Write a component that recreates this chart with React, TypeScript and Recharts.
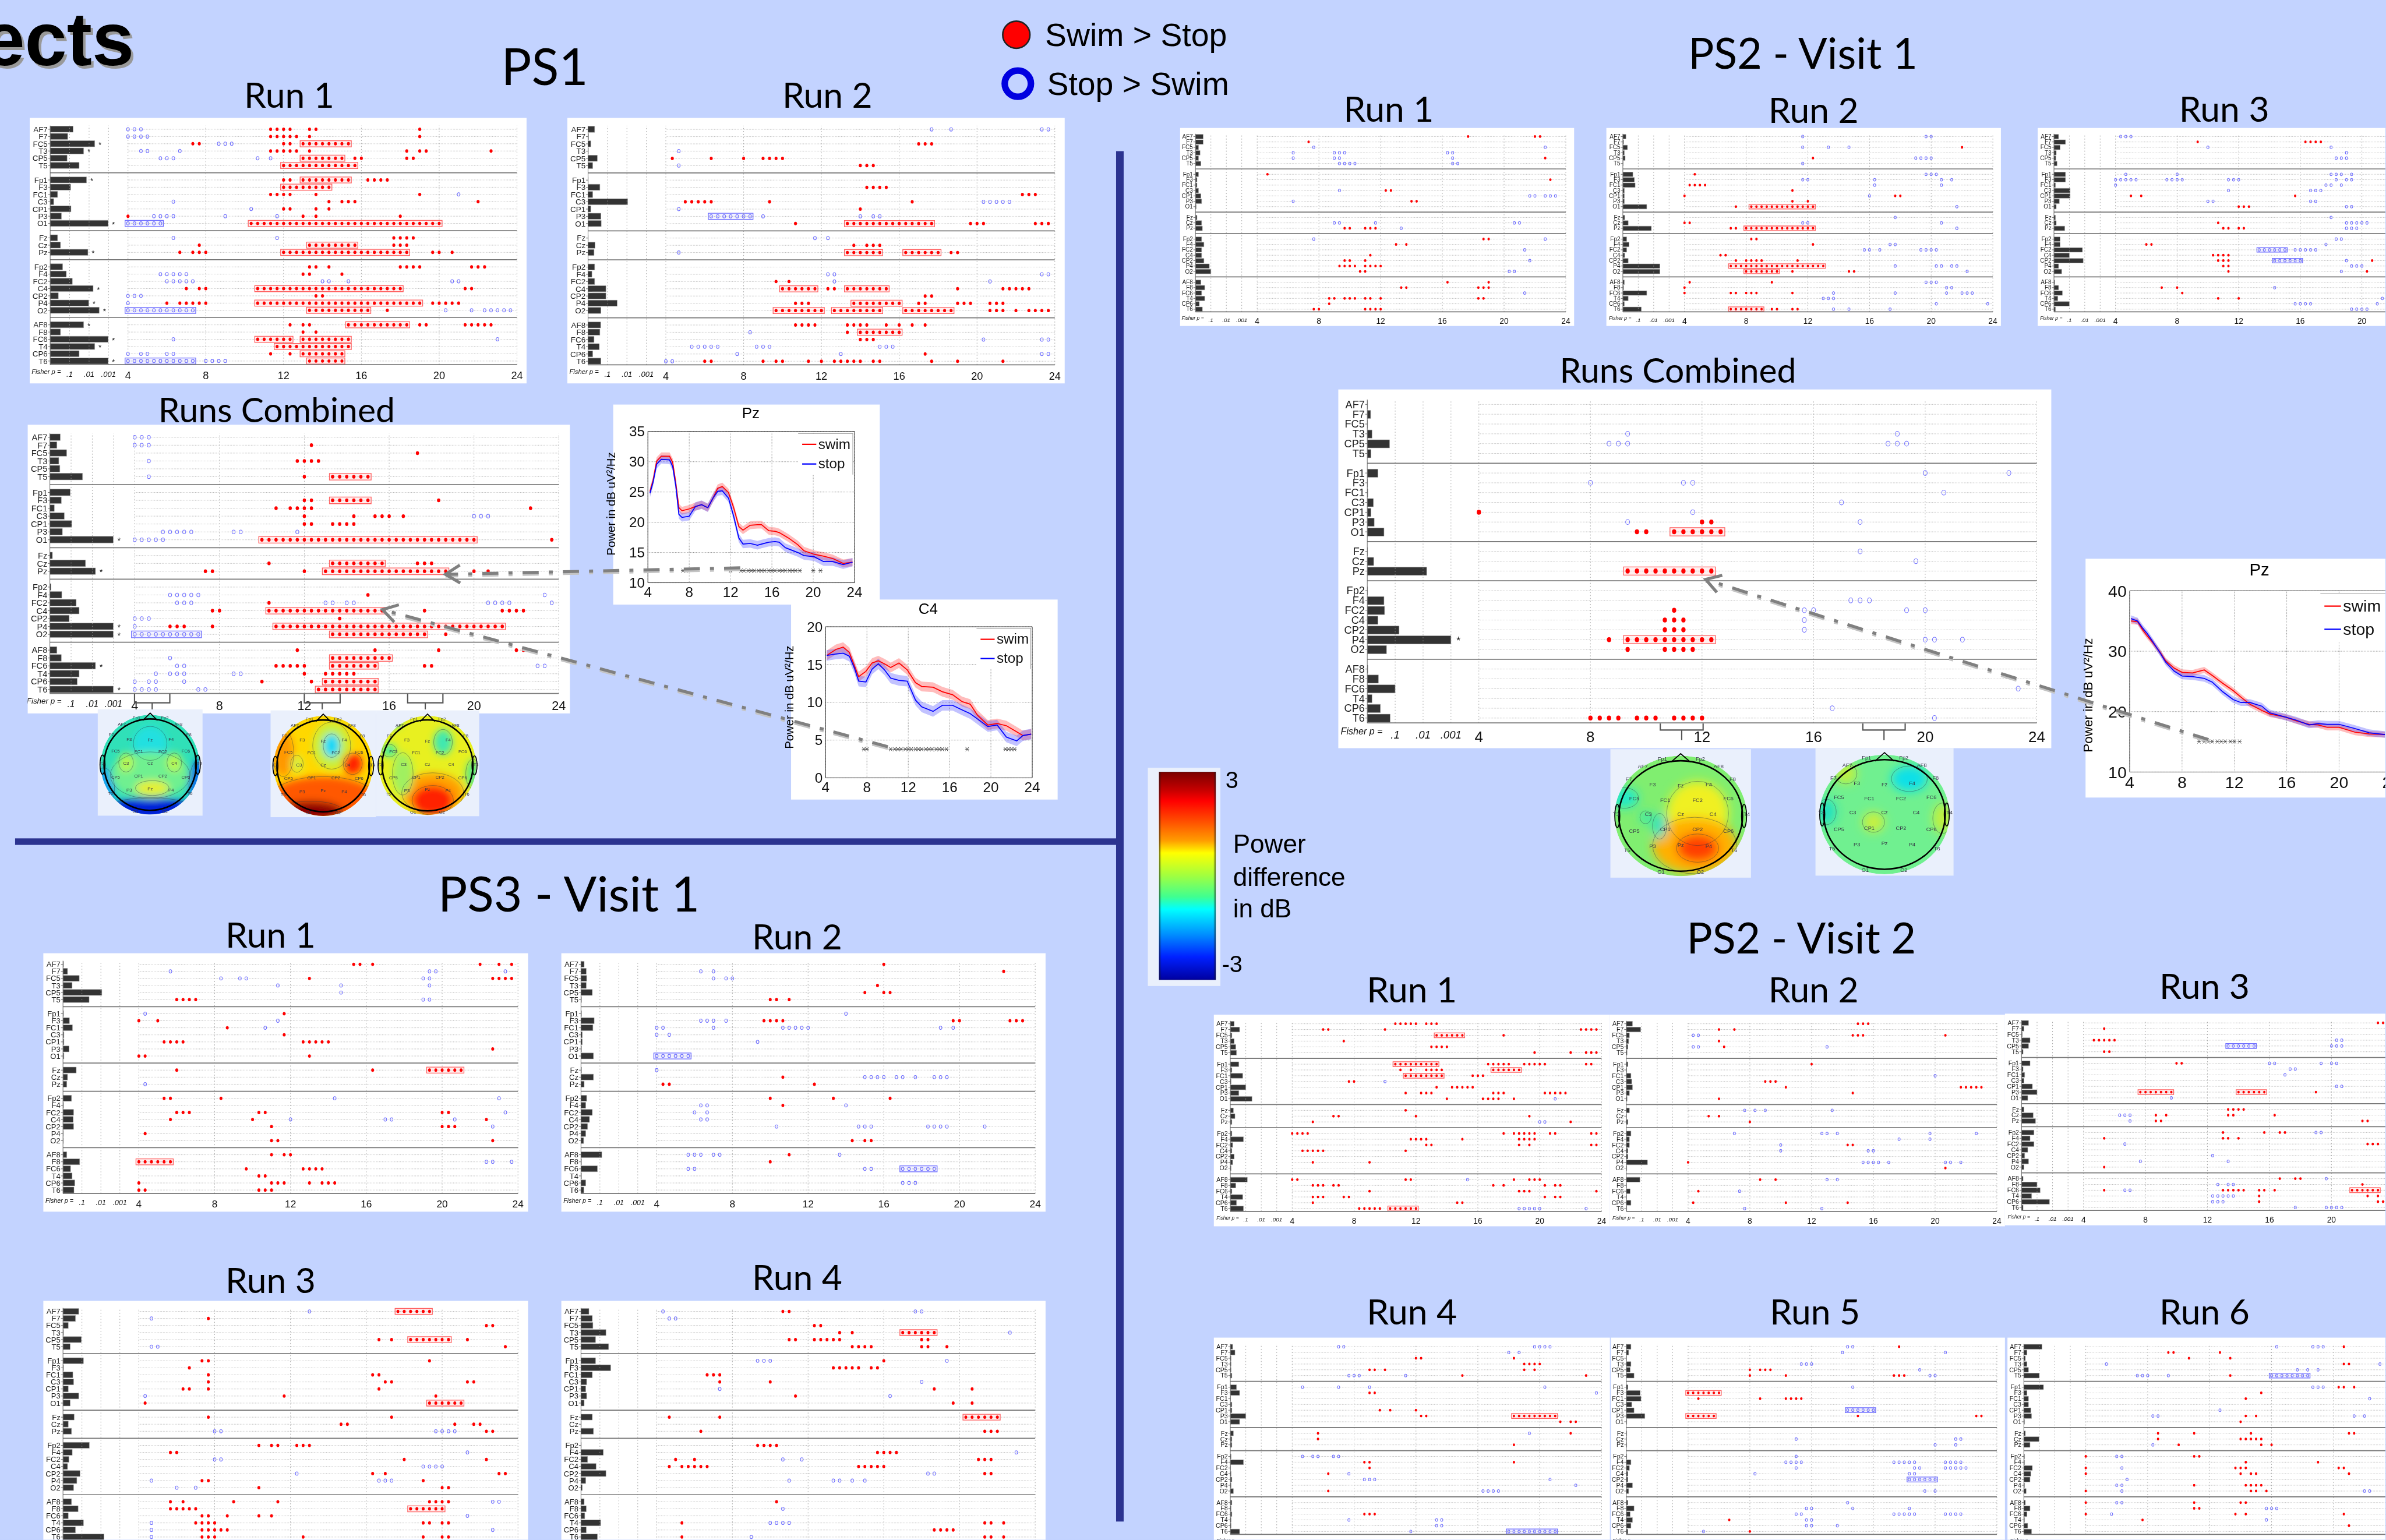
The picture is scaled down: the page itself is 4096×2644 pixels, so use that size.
import {
  Area,
  Bar,
  CartesianGrid,
  ComposedChart,
  Line,
  ReferenceArea,
  ReferenceLine,
  Scatter,
  XAxis,
  YAxis,
} from "recharts";

const SANS = "Liberation Sans";
const TITLE = "Lato";
const BG = "#c3d3ff";

type Rows = Record<string, number[]>;
type Box = [string, number, number];

const CHANNELS = ["AF7", "F7", "FC5", "T3", "CP5", "T5", "Fp1", "F3", "FC1", "C3", "CP1", "P3", "O1", "Fz", "Cz", "Pz", "Fp2", "F4", "FC2", "C4", "CP2", "P4", "O2", "AF8", "F8", "FC6", "T4", "CP6", "T6"];
const ROW_POS = [0, 1, 2, 3, 4, 5, 7, 8, 9, 10, 11, 12, 13, 15, 16, 17, 19, 20, 21, 22, 23, 24, 25, 27, 28, 29, 30, 31, 32];
const SEPARATORS = [6, 14, 18, 26];
const FREQ_TICKS = [4, 8, 12, 16, 20, 24];
const FISHER_TICKS = [1, 2, 3];
const FISHER_LABELS: Record<number, string> = { 1: ".1", 2: ".01", 3: ".001" };

// dots are frequency bins: 0 = 4 Hz, 60 = 24 Hz (1/3 Hz steps)
const ps1r1Bars = [1.18, 0.9, 2.29, 1.72, 0.87, 1.49, 1.87, 1.05, 0.38, 0.18, 1.07, 0.58, 2.98, 0.38, 0.53, 1.94, 0.64, 0.83, 1.14, 2.21, 0.42, 1.98, 2.52, 1.72, 0.53, 2.98, 2.29, 1.49, 2.98];
const ps1r1Red: Rows = { AF7: [22, 23, 24, 25, 28, 29, 45], F7: [22, 23, 24, 25, 26, 28, 45], FC5: [10, 11, 24, 25], T3: [22, 23, 24, 25, 26, 28, 43, 45, 46, 56], CP5: [35, 36, 43, 44], Fp1: [24, 25, 37, 38, 39, 40], FC1: [22, 23, 24, 25, 29, 45], C3: [31, 33, 34, 35, 54], CP1: [24, 25, 29, 31], P3: [0, 27, 29, 42], Fz: [41, 42, 43, 44], Cz: [11, 41, 42, 43], Pz: [8, 10, 11, 12, 47, 48, 50], Fp2: [28, 29, 31, 42, 43, 44, 45, 53, 54, 55], F4: [27, 28, 33], C4: [9, 11, 12, 52, 53], CP2: [29, 30], P4: [6, 8, 9, 10, 11, 12, 47, 48, 49, 50, 51], O2: [40], AF8: [25, 27, 28, 45, 46, 52, 53, 54, 55, 56], F8: [27, 29], CP6: [22, 25] };
const ps1r1Blue: Rows = { AF7: [0, 1, 2], F7: [0, 1, 2, 3], FC5: [14, 15, 16], T3: [2, 3, 8], CP5: [5, 6, 7, 20, 22], FC1: [51], C3: [7], CP1: [19], P3: [4, 5, 6, 7, 15, 23], Fz: [7, 23], F4: [5, 6, 7, 8, 9], FC2: [6, 7, 8, 9, 10, 30, 31, 34, 50, 51], CP2: [0, 1, 2], P4: [0], O2: [49, 53, 55, 56, 57, 58, 59], FC6: [7, 57], CP6: [0, 2, 3, 6, 7], T6: [12, 13, 14, 15] };
const ps1r1RedBoxes: Box[] = [["FC5", 27, 34], ["CP5", 27, 33], ["T5", 24, 35], ["Fp1", 27, 34], ["F3", 24, 31], ["O1", 19, 48], ["Cz", 28, 35], ["Pz", 24, 43], ["C4", 20, 42], ["P4", 20, 45], ["O2", 28, 37], ["AF8", 34, 43], ["FC6", 20, 25], ["FC6", 27, 34], ["T4", 23, 34], ["CP6", 27, 33], ["T6", 28, 33]];
const ps1r1BlueBoxes: Box[] = [["O1", 0, 5], ["O2", 0, 10], ["T6", 0, 10]];
const ps1r1Stars = ["FC5", "T3", "Fp1", "O1", "Pz", "C4", "P4", "O2", "AF8", "FC6", "T4", "T6"];

const ps1r2Bars = [0.34, 0.03, 0.14, 0.02, 0.48, 0.24, 0.01, 0.61, 0.24, 2.04, 0.14, 0.66, 0.68, 0.01, 0.36, 0.31, 0.34, 0.2, 0.34, 0.92, 0.92, 1.5, 0.66, 0.65, 0.61, 0.31, 0.58, 0.24, 0.66];
const ps1r2Red: Rows = { FC5: [39, 40, 41], CP5: [1, 7, 12, 15, 16, 17, 18], T5: [30, 31, 32], F3: [31, 32, 33, 34], FC1: [55, 56, 57], C3: [3, 4, 5, 6, 7, 16, 38], CP1: [30], O1: [20, 47, 48, 49, 57, 58, 59], Cz: [29, 31, 32, 33], Pz: [44, 45], FC2: [17, 19], C4: [25, 26, 45, 52, 53, 54, 55, 56], CP2: [40, 41], P4: [20, 21, 22, 39, 40, 45, 46, 47, 50, 51, 52], O2: [50, 51, 52, 54, 56, 57, 58, 59], AF8: [20, 21, 22, 23, 28, 29, 30, 31, 34, 36, 38, 40], F8: [28], FC6: [30, 31, 32], CP6: [40], T6: [6, 7, 15, 17, 18, 22, 24, 26, 27, 28, 29, 30, 32, 33, 41, 45, 52] };
const ps1r2Blue: Rows = { AF7: [41, 44, 58, 59], T3: [2], T5: [2], C3: [49, 50, 51, 52, 53], CP1: [2], P3: [15, 30, 32, 33], Fz: [23, 25], Pz: [2], F4: [25, 26, 58, 59], FC2: [26, 50], F8: [13], FC6: [49, 58, 59], T4: [4, 5, 6, 7, 8, 14, 15, 16, 33, 34, 35], CP6: [11, 27, 58, 59], T6: [0, 1] };
const ps1r2RedBoxes: Box[] = [["O1", 28, 41], ["Pz", 28, 33], ["Pz", 37, 42], ["C4", 18, 23], ["C4", 28, 34], ["P4", 29, 36], ["O2", 17, 24], ["O2", 26, 33], ["O2", 37, 44], ["F8", 30, 36]];
const ps1r2BlueBoxes: Box[] = [["P3", 7, 13]];

const ps1cBars = [0.49, 0.33, 0.79, 0.42, 0.47, 1.54, 0.96, 0.54, 0.21, 0.68, 1.03, 0.59, 2.99, 0.12, 1.68, 2.15, 0.05, 0.56, 1.24, 1.38, 0.91, 2.99, 2.99, 0.33, 0.54, 2.15, 1.38, 1.29, 2.99];
const ps1cRed: Rows = { F7: [25], FC5: [40], T3: [23, 24, 25, 26], T5: [24], F3: [24, 25, 43], FC1: [20, 22, 23, 24, 25, 56], C3: [24, 31, 34, 35, 36, 38], CP1: [24, 25, 28, 29, 30, 31], O1: [59], Cz: [19, 40, 41, 42], Pz: [10, 11, 24, 48, 50], F4: [33], FC2: [19], C4: [11, 12, 41, 52, 53, 54, 55], CP2: [29], P4: [5, 6, 7, 11], O2: [44], AF8: [23, 34, 43, 54, 55], FC6: [20, 21, 22, 23, 24, 41, 42], T4: [24, 27, 28, 29, 30, 31], CP6: [18, 25] };
const ps1cBlue: Rows = { AF7: [0, 1, 2], F7: [0, 1, 2], T3: [2], T5: [2], C3: [48, 49, 50], P3: [4, 5, 6, 7, 8, 14, 15, 23], O1: [0, 1, 2, 3, 4], F4: [5, 6, 7, 8, 9, 58], FC2: [6, 7, 8, 27, 28, 30, 31, 50, 51, 52, 53, 59], CP2: [0, 1, 2], P4: [0], F8: [5], FC6: [6, 7, 57, 58], T4: [3, 5, 6, 7, 14, 15], CP6: [0, 2, 3, 7], T6: [0, 1, 2, 3, 9, 10] };
const ps1cRedBoxes: Box[] = [["T5", 28, 33], ["F3", 28, 33], ["O1", 18, 48], ["Cz", 28, 35], ["Pz", 27, 44], ["C4", 19, 35], ["P4", 20, 52], ["O2", 28, 41], ["F8", 28, 36], ["FC6", 28, 34], ["CP6", 27, 34], ["T6", 26, 34]];
const ps1cBlueBoxes: Box[] = [["O2", 0, 9]];
const ps1cStars = ["O1", "Pz", "P4", "O2", "FC6", "T6"];

const ps2v1cBars = [0.01, 0.12, 0.01, 0.17, 0.8, 0.13, 0.38, 0.01, 0.02, 0.22, 0.13, 0.25, 0.6, 0.01, 0.23, 2.13, 0.01, 0.6, 0.62, 0.38, 1.14, 3, 0.69, 0.02, 0.4, 1, 0.17, 0.47, 0.82];
const ps2v1cRed: Rows = { CP1: [0], P3: [24, 25], O1: [17, 18], FC2: [21], C4: [20, 21, 22], CP2: [20, 21, 22], P4: [14], O2: [16, 20, 21, 22, 23], T6: [12, 13, 14, 15, 17, 18, 19, 21, 22, 23, 24] };
const ps2v1cBlue: Rows = { T3: [16, 45], CP5: [14, 15, 16, 44, 45, 46], Fp1: [48, 57], F3: [12, 22, 23], FC1: [50], C3: [39], CP1: [23], P3: [16, 41], Fz: [41], Cz: [47], F4: [40, 41, 42], FC2: [35, 36, 46, 48], C4: [35], CP2: [35], P4: [48, 49, 52], FC6: [58], CP6: [38], T6: [49] };
const ps2v1cRedBoxes: Box[] = [["O1", 21, 26], ["Pz", 16, 25], ["P4", 16, 25]];
const ps2v1cStars = ["P4"];

const ps2v1r1Bars = [0.5, 0.5, 0.2, 0.3, 0.2, 0.35, 0.2, 0.1, 0.1, 0.2, 0.35, 0.4, 0.05, 0.1, 0.4, 0.45, 0.4, 0.55, 0.4, 0.4, 0.55, 0.9, 1, 0.35, 0.6, 0.4, 0.6, 0.25, 0.45];
const ps2v1r1Red: Rows = { AF7: [41, 54, 55], F7: [10], CP5: [56], Fp1: [2], F3: [57], C3: [25, 26], P3: [30, 31], Pz: [17, 18, 21, 22, 23], Fp2: [44, 45], F4: [27, 29], C4: [22], CP2: [17, 18, 21], P4: [16, 17, 18, 19, 21, 22, 23, 24], O2: [20, 21], AF8: [37, 45], F8: [28, 29, 43, 44, 45], T4: [14, 15, 17, 18, 19, 21, 22, 24, 43, 44], CP6: [14], T6: [11, 12, 21, 22, 23, 24] };
const ps2v1r1Blue: Rows = { FC5: [11, 56], T3: [7, 15, 16, 17, 37, 38], CP5: [7, 15, 16, 38], T5: [16, 17, 18, 19, 38, 39], C3: [16], CP1: [53, 54, 56, 57, 58], P3: [7], Cz: [15, 16, 23, 50, 51], Pz: [28], Fp2: [11, 56], FC2: [52], CP2: [53], O2: [49, 50], FC6: [52] };

const ps2v1r2Bars = [0.2, 0.05, 0.3, 0.1, 0.15, 0.02, 0.65, 0.75, 0.8, 0.1, 0.1, 0.1, 1.55, 0.12, 0.35, 1.85, 0.25, 0.4, 0.25, 0.12, 0.35, 2.4, 2.4, 0.1, 0.05, 1.55, 0.35, 0.1, 1.2];
const ps2v1r2Red: Rows = { FC5: [54], CP5: [25], Fp1: [2], FC1: [1, 2, 3, 4], C3: [21], CP1: [0, 41, 42], P3: [21, 24], O1: [10], Cz: [0, 1], Pz: [9, 10], Fp2: [13, 14], F4: [25], C4: [7, 8], CP2: [10, 12, 13, 14, 15, 22], O2: [21, 32, 33], AF8: [1, 17], F8: [0], FC6: [0, 9, 10, 12, 13, 14, 21], T6: [17, 18, 21, 22] };
const ps2v1r2Blue: Rows = { AF7: [23, 47, 48], FC5: [23, 28, 32], CP5: [45, 46, 47, 48], T5: [23], Fp1: [47, 48, 49], F3: [23, 24, 37, 50, 52], FC1: [37, 50], CP1: [36], O1: [53], Fz: [41], Cz: [23, 24, 50], Pz: [53], F4: [40, 41], FC2: [35, 36, 38, 46, 47, 48, 49], P4: [41, 49, 50, 52, 53], O2: [55], AF8: [47, 48, 49], F8: [51, 52], FC6: [29, 41, 51, 54, 55, 56], T4: [27, 28, 29], CP6: [49, 59], T6: [29, 32, 40] };
const ps2v1r2RedBoxes: Box[] = [["O1", 13, 25], ["Pz", 12, 25], ["P4", 9, 27], ["O2", 12, 18], ["T6", 9, 15]];

const ps2v1r3Bars = [0.3, 0.75, 0.4, 0.15, 0.12, 0.2, 0.75, 0.75, 0.1, 1.05, 1.05, 0.35, 0.15, 0.1, 0.15, 0.7, 0.4, 0.4, 1.85, 1, 1.9, 0.3, 0.5, 0.05, 0.3, 0.55, 0.25, 1, 0.1];
const ps2v1r3Red: Rows = { F7: [16, 37, 38, 39, 40], CP1: [3, 5, 35], O1: [24, 25, 26], Cz: [20], Pz: [21, 22, 24, 25], F4: [6, 7], C4: [19, 20, 21, 22], CP2: [20, 21, 22, 50], P4: [21, 22], O2: [22, 49], F8: [9, 12], FC6: [13], T4: [20, 24] };
const ps2v1r3Blue: Rows = { AF7: [1, 2, 3], FC5: [18, 42], T3: [45], CP5: [43, 44, 45], Fp1: [2, 12, 42, 43, 44, 46], F3: [0, 1, 2, 3, 4, 10, 11, 12, 13, 22, 23, 24, 43, 45, 46], FC1: [0, 41, 42, 44], C3: [22, 38, 39, 40], P3: [18, 19, 38, 39], O1: [45, 46], Fz: [42], Cz: [45, 46, 47, 48, 49], Pz: [45, 46, 47], Fp2: [43, 44], F4: [41], FC2: [35, 36, 37, 38, 39], CP2: [45], P4: [46, 47, 48], O2: [44], F8: [31], T4: [52], CP6: [35, 36, 37, 38, 51], T6: [46, 47, 48, 49] };
const ps2v1r3BlueBoxes: Box[] = [["FC2", 28, 33], ["CP2", 31, 36]];

const ps3r1Bars = [0.03, 0.24, 0.86, 0.48, 2.05, 1.38, 0.03, 0.34, 0.5, 0.05, 0.05, 0.32, 0.05, 0.7, 0.24, 0.2, 0.45, 0.03, 0.56, 0.54, 0.56, 0.02, 0.02, 0.2, 0.88, 0.4, 0.48, 0.62, 0.58];
const ps3r1Red: Rows = { AF7: [34, 35, 37, 54, 57, 59], FC5: [27, 56, 57, 58, 59], T5: [6, 7, 8, 9], Fp1: [23], F3: [0, 3], FC1: [14], C3: [23], CP1: [4, 5, 6, 7, 26, 27, 28, 29, 30], P3: [56], O1: [0, 1, 27], Fz: [6, 37], Fp2: [4, 5, 13], FC2: [6, 7, 8, 19, 20, 48, 49], C4: [5, 18, 55], CP2: [21, 48, 49, 50], P4: [1], O2: [21, 22, 56], AF8: [21, 23, 24], FC6: [17, 26, 27, 28, 29], T4: [19, 20], CP6: [0, 21, 22, 23, 27, 29, 30, 31], T6: [0, 1, 19, 20, 21] };
const ps3r1Blue: Rows = { F7: [5, 46, 47, 58], FC5: [13, 16, 17, 45, 46], T3: [22, 32, 46], CP5: [32], T5: [45, 46], Fp1: [1], F3: [22], FC1: [20], Pz: [1], Fp2: [31, 57], FC2: [58], C4: [24, 39, 40, 50], CP2: [56], F8: [55, 56, 59] };
const ps3r1RedBoxes: Box[] = [["Fz", 46, 51], ["F8", 0, 5]];

const ps3r2Bars = [0.17, 0.28, 0.3, 0.28, 0.6, 0.03, 0.03, 0.7, 0.63, 0.07, 0.07, 0.03, 0.66, 0.03, 0.66, 0.17, 0.3, 0.25, 0.6, 0.45, 0.35, 0.25, 0.14, 1.1, 0.03, 0.87, 0.03, 0.25, 0.15];
const ps3r2Red: Rows = { AF7: [36], F7: [55], T3: [35], CP5: [33, 36, 37], T5: [18, 19, 21], F3: [17, 18, 19, 20, 47, 48, 56, 57, 58], Cz: [20], Pz: [1, 2, 25], Fp2: [18, 28, 37], F4: [20], O2: [31, 33, 34], AF8: [21], F8: [18] };
const ps3r2Blue: Rows = { F7: [7, 9], FC5: [9, 11, 12], Fp1: [30], F3: [7, 8, 9, 11], FC1: [0, 1, 9, 20, 21, 22, 23, 24, 45, 47], C3: [0, 2], CP1: [16], Fz: [0], Cz: [33, 34, 35, 36, 38, 39, 41, 44, 45, 46], F4: [7, 8, 30], FC2: [6, 8], C4: [7, 8], CP2: [19, 32, 33, 34, 43, 44, 45, 46, 52], AF8: [5, 6, 7, 9, 10, 29], FC6: [5, 6, 33, 34], CP6: [39, 40, 41] };
const ps3r2BlueBoxes: Box[] = [["O1", 0, 5], ["FC6", 39, 44]];

const ps3r3Bars = [0.83, 0.66, 0.28, 0.03, 0.97, 0.38, 1.08, 0.03, 0.52, 0.56, 0.28, 0.83, 0.38, 0.59, 0.28, 0.45, 1.39, 0.49, 0.31, 0.24, 0.9, 0.73, 0.56, 0.45, 0.8, 0.28, 1.08, 0.66, 2.16];
const ps3r3Red: Rows = { F7: [11], FC5: [55, 56], CP5: [38, 40, 52], T5: [58], Fp1: [10, 11, 46], F3: [8], FC1: [11, 37, 38], C3: [11, 39, 40, 52, 53], CP1: [7, 8, 11, 38], P3: [23, 47], O1: [1], Fz: [11, 40], Cz: [32, 33, 50, 53, 54], Pz: [55, 56], Fp2: [19, 21, 22, 25, 26, 27], F4: [5, 6], FC2: [42, 55], CP2: [37, 39, 57, 58], P4: [10, 11, 45], O2: [19, 48, 49], AF8: [5, 7, 15, 22, 46, 47, 48, 49], F8: [5, 6, 7, 8, 9], FC6: [10, 11, 14, 19, 21], T4: [9, 10, 11, 12, 45, 46, 48, 49], CP6: [10, 11, 12, 13, 14], T6: [10, 11, 12, 26, 45, 48, 49] };
const ps3r3Blue: Rows = { AF7: [27], F7: [2], T5: [2, 3], P3: [1], Pz: [12, 13, 47, 48, 49, 50], F4: [52], FC2: [12, 13], C4: [45, 46, 47, 48], CP2: [25], P4: [2, 38, 39, 40], O2: [6, 9], AF8: [56, 57], FC6: [52], T4: [2], CP6: [2, 56], T6: [2] };
const ps3r3RedBoxes: Box[] = [["AF7", 41, 46], ["CP5", 43, 49], ["O1", 46, 51], ["F8", 43, 48]];

const ps3r4Bars = [0.42, 0.6, 0.63, 1.32, 0.77, 1.46, 0.77, 1.57, 0.6, 0.3, 0.25, 0.3, 0.17, 0.6, 0.02, 0.66, 0.02, 1.18, 0.35, 0.8, 1.32, 0.25, 0.07, 0.17, 0.28, 0.2, 1.04, 0.28, 0.87];
const ps3r4Red: Rows = { AF7: [20, 21], FC5: [25, 26], T3: [29, 31], CP5: [21, 22, 25, 26, 27, 28, 29, 42, 43], T5: [31, 32, 33, 34, 42, 43, 46], Fp1: [36], F3: [28, 29, 30, 31, 32, 34, 35], FC1: [8, 9, 10], C3: [10, 18], CP1: [44, 50], P3: [22], O1: [47, 50], Fz: [2, 10], Pz: [7, 52, 53, 54], Fp2: [16, 17, 18, 19], F4: [35, 36, 37, 38], FC2: [3, 6, 51, 52, 53], C4: [2, 4, 5, 6, 7, 8, 32, 33, 34, 35, 36], CP2: [52, 53], AF8: [19], T4: [4, 52, 53, 55], CP6: [44, 45, 46, 47], T6: [4, 52, 53, 55] };
const ps3r4Blue: Rows = { AF7: [1, 41, 42], F7: [2, 3], T3: [56], Fp1: [16, 17, 18, 46], C3: [42], CP1: [10], P3: [37], F4: [57], FC2: [20, 23], CP2: [43, 44], P4: [21, 28, 29, 31, 33], F8: [20], T4: [18, 19, 20, 21], T6: [15] };
const ps3r4RedBoxes: Box[] = [["T3", 39, 44], ["Fz", 49, 54]];

const ps2v2r1Bars = [0.25, 0.6, 0.1, 0.25, 0.35, 0.4, 0.55, 0.1, 0.8, 0.05, 1, 0.55, 1.4, 0.2, 0.3, 0.1, 0.1, 0.85, 0.15, 0.1, 0.25, 0.15, 0.05, 1.1, 0.35, 0.1, 0.8, 0.4, 0.85];
const ps2v2r1Red: Rows = { AF7: [20, 21, 22, 23, 24, 26, 27, 28], F7: [6, 7, 18, 56, 57, 58, 59], FC5: [41], T3: [10], CP5: [27, 28, 29, 30], T5: [47, 54, 57, 58, 59], Fp1: [38, 39, 40, 41, 42, 45, 46, 47, 48, 49, 57, 58], F3: [21, 23, 26, 27, 28, 29], FC1: [35, 36, 37], C3: [11, 12], CP1: [28, 31, 32, 33, 34, 35], P3: [22, 25, 26, 27, 39, 40, 41, 49, 50, 51, 52, 53], O1: [30, 37, 38, 39, 40, 43], Fz: [22], Cz: [8, 9, 24, 46], Pz: [4, 54], Fp2: [0, 1, 2, 3, 41, 43, 44, 45, 46, 47, 50, 51, 58, 59], F4: [23, 24, 25, 26, 33, 44, 45, 46, 47], FC2: [26, 27, 44, 46, 58, 59], C4: [2, 3, 4, 5, 6, 22], P4: [4, 15], AF8: [0, 1, 22, 23, 43, 46, 47, 48], F8: [4, 5, 6, 8, 9, 39, 41, 49, 51, 52], FC6: [15, 44, 45, 46, 59], T4: [4, 5, 6, 10, 11, 49, 51, 52], CP6: [4, 32, 33], T6: [13, 14, 15, 16, 17] };
const ps2v2r1Blue: Rows = { C3: [18], O1: [51], Pz: [48, 49], AF8: [34], T6: [44, 45, 46, 47, 48, 57] };
const ps2v2r1RedBoxes: Box[] = [["FC5", 28, 33], ["Fp1", 20, 28], ["F3", 39, 44], ["FC1", 22, 29], ["T6", 19, 24]];

const ps2v2r2Bars = [0.4, 0.93, 0.2, 0.15, 0.1, 0.05, 0.1, 0.03, 0.3, 0.35, 0.4, 0.2, 0.05, 0.2, 0.02, 0.1, 0.3, 0.2, 0.2, 0.1, 0.1, 1.37, 0.03, 0.88, 0.02, 0.25, 0.02, 0.3, 0.03];
const ps2v2r2Red: Rows = { AF7: [33, 34, 35], F7: [6, 9], FC5: [32, 33, 34, 50], T3: [6], CP5: [7], Fp1: [24], C3: [15, 16, 17], CP1: [19, 53, 54, 55, 56, 57], P3: [32], O1: [6], Cz: [4, 6], Pz: [12], FC2: [31, 32], P4: [0], O2: [50], AF8: [14, 17], FC6: [2], CP6: [1, 19, 31] };
const ps2v2r2Blue: Rows = { FC5: [1, 2], CP5: [1, 2, 27], FC1: [48], Fz: [11, 13, 15, 28], Fp2: [9, 26, 27, 29, 47, 56], F4: [41, 47], FC2: [18], C4: [18, 35, 36], P4: [34, 35, 36, 37, 39, 50, 51, 53], AF8: [27, 29], FC6: [10], T6: [11, 26] };

const ps2v2r3Bars = [0.45, 0.15, 0.05, 0.55, 0.45, 0.1, 0.55, 0.1, 0.2, 0.15, 0.7, 1, 0.4, 0.15, 0.75, 0.9, 0.8, 0.55, 0.8, 0.4, 0.2, 0.45, 0.15, 0.1, 1, 1.2, 0.65, 1.8, 0.1];
const ps2v2r3Red: Rows = { AF7: [57, 58], F7: [4], T3: [2, 3, 4, 5, 6], T5: [4, 5], Fp1: [18, 19], P3: [45], Fz: [28, 29, 30, 31], Cz: [14, 16, 28, 29, 37], Pz: [14, 15, 54, 55], Fp2: [27, 35, 38, 39], F4: [4, 27, 28, 30], FC2: [55, 56, 57], O2: [4], AF8: [38, 41, 42], F8: [54], FC6: [4, 27, 28, 29, 30, 31, 34, 35, 37], T4: [34, 55, 57], CP6: [34, 57, 58] };
const ps2v2r3Blue: Rows = { T3: [49, 50], CP5: [48, 49, 50], Fp1: [36, 37, 46, 48, 49], F3: [40, 41], FC1: [39], CP1: [49, 50], O1: [17], Cz: [7, 8, 9], Pz: [9], Fp2: [45, 46], FC2: [8], CP2: [25], P4: [11, 28], AF8: [47], F8: [26, 28, 29], FC6: [8, 9], T4: [25, 26, 27, 28, 29], CP6: [25, 26, 27], T6: [41, 47, 48, 49, 50] };
const ps2v2r3RedBoxes: Box[] = [["P3", 11, 17], ["P3", 30, 35], ["FC6", 52, 57]];
const ps2v2r3BlueBoxes: Box[] = [["CP5", 28, 33]];

const ps2v2r4Bars = [0.15, 0.3, 0.05, 0.05, 0.05, 0.1, 0.4, 0.6, 0.02, 0.1, 0.1, 1, 0.6, 0.2, 0.1, 0.1, 0.05, 0.85, 0.02, 0.05, 0.1, 0.05, 0.2, 0.1, 0.05, 0.1, 0.05, 0.05, 0.6];
const ps2v2r4Red: Rows = { FC5: [24, 25, 43], T3: [45, 46, 47, 48], CP5: [15, 16, 18, 45, 47], T5: [33, 57], F3: [15, 16], CP1: [17, 19, 24], P3: [25, 26], O1: [52, 54, 55], Fz: [5, 54], Cz: [5], Pz: [43], F4: [14, 15, 43], FC2: [15], C4: [7], O2: [7], FC6: [14, 15, 16] };
const ps2v2r4Blue: Rows = { AF7: [9, 10, 47, 48, 49, 50], F7: [42, 44], T5: [11, 12, 13, 22], Fp1: [2, 9, 15, 49], F3: [59], Fz: [46], Fp2: [2, 4, 5, 8, 9], C4: [11], CP2: [14, 15, 16, 50], P4: [55], O2: [37, 38, 39, 40], T4: [11, 28, 29], CP6: [28, 29], T6: [23] };
const ps2v2r4RedBoxes: Box[] = [["P3", 43, 51]];
const ps2v2r4BlueBoxes: Box[] = [["T6", 42, 51]];

const ps2v2r5Bars = [0.3, 0.15, 0.02, 0.3, 0.25, 0.5, 0.1, 0.9, 0.95, 0.35, 0.5, 1.2, 0.03, 0.03, 0.02, 0.03, 0.03, 0.3, 0.2, 0.1, 0.1, 0.4, 0.15, 0.1, 0.5, 0.25, 0.4, 0.3, 0.1];
const ps2v2r5Red: Rows = { AF7: [41], CP5: [12, 14, 15, 16], T5: [12, 19, 40, 41, 42], FC1: [2, 14, 19, 20, 21, 22], P3: [33, 56, 57], T4: [8], T6: [12] };
const ps2v2r5Blue: Rows = { AF7: [31, 32], F7: [30, 50], T3: [22, 23, 24], CP5: [45], T5: [47, 48], Fp1: [32], Cz: [21, 52, 53], Pz: [48, 52], Fp2: [21], F4: [19, 20, 21, 22, 40, 41, 42, 43, 44, 50, 51, 52, 53], FC2: [21, 44, 45, 50, 51, 52, 53, 54], C4: [13, 43, 44], O2: [46, 48], AF8: [31], F8: [23, 24, 32, 43], FC6: [21, 22, 40, 41, 42, 43, 44, 50, 51, 52, 53], T4: [23, 24], CP6: [23, 24, 29], T6: [3] };
const ps2v2r5RedBoxes: Box[] = [["F3", 0, 6], ["P3", 0, 5]];
const ps2v2r5BlueBoxes: Box[] = [["CP1", 31, 36], ["CP2", 43, 48]];

const ps2v2r6Bars = [1.17, 0.2, 0.1, 0.2, 0.3, 1, 1.27, 0.2, 0.3, 0.3, 0.45, 0.5, 0.05, 0.1, 0.98, 0.4, 0.05, 0.05, 0.55, 0.45, 0.4, 0.05, 0.15, 0.1, 0.4, 0.2, 0.05, 0.25, 0.5];
const ps2v2r6Red: Rows = { AF7: [50], F7: [16, 17, 26], FC5: [20, 28], T3: [50, 51], T5: [28], Fp1: [49, 50, 52], F3: [34], FC1: [31], P3: [31, 33], O1: [30], Fz: [14, 21, 32, 51, 52], Cz: [14, 30, 31, 32, 33, 34], Pz: [18, 34, 36], Fp2: [0, 21, 22], F4: [31, 45], FC2: [0, 29, 30, 31, 49, 50], C4: [0, 30, 32, 33, 51], P4: [21, 31, 32, 33, 34], O2: [0, 32, 33, 35], AF8: [0, 21, 30, 31], F8: [21, 22], FC6: [0, 29, 31, 50], T4: [11], CP6: [51] };
const ps2v2r6Blue: Rows = { AF7: [37, 44, 45, 46], T3: [4, 57], CP5: [41, 43, 45], T5: [10, 11, 12, 16], Fp1: [44, 45, 46], FC1: [55], CP1: [26], P3: [13, 14, 52, 54], Pz: [13], Fp2: [6, 7], FC2: [7], CP2: [8], P4: [6, 7], O2: [7, 54, 55], AF8: [6, 7], F8: [35, 36, 37], FC6: [5], T4: [35] };
const ps2v2r6BlueBoxes: Box[] = [["T5", 36, 43]];

// spectra
const pzFreqs = [4.2, 4.5, 4.85, 5.3, 6.1, 6.4, 6.7, 7, 7.3, 8, 8.6, 9.2, 9.8, 10.3, 10.75, 11.2, 11.8, 12.3, 12.8, 13.2, 13.9, 14.6, 15, 15.7, 16.3, 16.7, 17.3, 17.6, 18.5, 19.1, 20.1, 21, 21.9, 22.9, 23.8];
const pzSwim = [25.1, 26.9, 30.1, 30.9, 30.9, 29.9, 26.5, 22.4, 21.9, 22.2, 22.6, 22.9, 22.4, 24, 25.6, 25.9, 24.9, 22.4, 19.3, 18.7, 19.5, 19.6, 19.6, 18.6, 18.5, 18.3, 17.7, 17.4, 16.3, 15.3, 14.7, 14.4, 14, 13.2, 13.4];
const pzStop = [24.8, 26.6, 29.6, 30.4, 30.3, 29.2, 26, 21.3, 20.8, 21, 22.6, 22.9, 22.4, 24, 25.1, 25.2, 24, 21, 17.4, 16.4, 16.5, 16.2, 16.4, 16.7, 16.8, 16.7, 15.8, 15.6, 15, 14.5, 14.3, 13.5, 13.5, 13, 13.4];
const pzStars = [7.4, 7.7, 12, 13, 13.3, 13.7, 14, 14.3, 14.7, 15, 15.3, 15.7, 16, 16.3, 16.7, 17, 17.3, 17.7, 18, 18.3, 18.7, 20, 20.7];
const c4Freqs = [4.1, 5, 5.7, 6.3, 6.8, 7.2, 7.9, 8.5, 9.1, 9.7, 10.3, 11.1, 11.9, 12.7, 13.3, 14.4, 15.3, 16.3, 17.2, 18, 18.7, 19.7, 20.6, 21.5, 22.5, 23.1, 23.9];
const c4Swim = [16.2, 17, 17.3, 16.6, 14.8, 13.4, 14.1, 15.2, 15.5, 15.1, 14.6, 15.2, 14.3, 12.6, 12.1, 12, 11.4, 11, 10.1, 9.75, 8.3, 7, 7.2, 6.9, 6.1, 5.6, 5.8];
const c4Stop = [16.2, 16.4, 16.5, 16.1, 14.5, 12.8, 12.7, 14.4, 15.1, 14.3, 13.2, 12.9, 12.8, 10.3, 9.4, 8.8, 9.6, 9.6, 9, 8.5, 7.8, 6.8, 7, 5.4, 4.9, 5.6, 5.8];
const c4Stars = [7.7, 8, 10.3, 10.7, 11, 11.3, 11.7, 12, 12.3, 12.7, 13, 13.3, 13.7, 14, 14.3, 14.7, 15, 15.3, 15.7, 17.7, 21.4, 21.7, 22, 22.3];
const pz2Freqs = [4.1, 4.6, 5, 5.35, 5.7, 6.3, 6.75, 7.4, 8, 8.8, 9.7, 10.3, 11.1, 11.9, 12.5, 13.2, 14.1, 14.7, 15.9, 16.7, 17.7, 18.4, 19.1, 20, 21.2, 22.3, 23.5];
const pz2Swim = [35, 34.9, 33.5, 32.5, 31.6, 29.9, 28.4, 27.2, 26.5, 26.4, 26.9, 26, 24.7, 23.5, 22.4, 21.2, 20.2, 19.6, 19.1, 18.5, 17.9, 17.8, 17.4, 17.4, 16.6, 16.3, 16.2];
const pz2Stop = [35.4, 35, 33.8, 32.9, 31.8, 29.8, 28.2, 26.7, 25.9, 25.8, 25.5, 24.9, 23.3, 22, 21.5, 21.5, 20.9, 19.8, 19.1, 18.6, 17.8, 18, 17.9, 17.9, 17.2, 16.5, 16.2];
const pz2Stars = [9.3, 9.7, 10, 10.3, 10.7, 11, 11.3, 11.7, 12, 12.4];

// maps: [cx, cy, rx, ry, colour] in head-relative units
type Blob = [number, number, number, number, string];
const topoAlpha: Blob[] = [[0.5, 1.0, 0.5, 0.17, "#0020d8"], [0.97, 0.72, 0.1, 0.25, "#0070e8"], [0.06, 0.75, 0.1, 0.2, "#10a0f0"], [0.5, 0.32, 0.16, 0.16, "#20e0e0"], [0.5, 0.62, 0.38, 0.22, "#70f090"], [0.52, 0.74, 0.16, 0.07, "#e4f030"], [0.27, 0.5, 0.07, 0.09, "#b8f850"], [0.73, 0.5, 0.07, 0.09, "#b8f850"]];
const topoBetaLow: Blob[] = [[0.5, 0.82, 0.5, 0.2, "#ff5800"], [0.38, 0.94, 0.3, 0.09, "#900000"], [0.12, 0.4, 0.1, 0.22, "#ff9800"], [0.58, 0.33, 0.18, 0.22, "#c8f040"], [0.58, 0.33, 0.08, 0.11, "#10d8f8"], [0.78, 0.5, 0.09, 0.1, "#ff2000"], [0.25, 0.5, 0.06, 0.08, "#d8f040"]];
const topoBetaHigh: Blob[] = [[0.55, 0.78, 0.3, 0.19, "#ffa000"], [0.55, 0.85, 0.2, 0.14, "#ff2000"], [0.65, 0.3, 0.09, 0.12, "#40e8b0"], [0.13, 0.38, 0.07, 0.06, "#40f0a0"], [0.94, 0.6, 0.07, 0.14, "#60e880"], [0.26, 0.6, 0.1, 0.2, "#a0f060"], [0.15, 0.1, 0.1, 0.07, "#50e8b0"]];
const topoPs2Low: Blob[] = [[0.62, 0.5, 0.22, 0.25, "#f0f020"], [0.6, 0.75, 0.3, 0.22, "#ffb000"], [0.62, 0.77, 0.15, 0.11, "#ff4000"], [0.1, 0.38, 0.1, 0.08, "#20e8c8"], [0.35, 0.6, 0.05, 0.1, "#30e0c0"], [0.25, 0.53, 0.04, 0.05, "#30e8b0"]];
const topoPs2High: Blob[] = [[0.68, 0.24, 0.13, 0.1, "#10e0e8"], [0.08, 0.5, 0.07, 0.1, "#20e0c0"], [0.22, 0.2, 0.08, 0.08, "#c0f040"], [0.42, 0.58, 0.08, 0.08, "#c8f040"], [0.92, 0.55, 0.07, 0.12, "#c0f040"]];
const topoLabels: [string, number, number][] = [["Fp1", 0.37, 0.07], ["Fp2", 0.64, 0.07], ["AF7", 0.23, 0.13], ["AF8", 0.77, 0.13], ["F7", 0.13, 0.23], ["F3", 0.3, 0.27], ["Fz", 0.5, 0.28], ["F4", 0.7, 0.27], ["F8", 0.87, 0.23], ["FC5", 0.17, 0.38], ["FC1", 0.39, 0.39], ["FC2", 0.62, 0.39], ["FC6", 0.84, 0.38], ["T3", 0.04, 0.5], ["C3", 0.27, 0.5], ["Cz", 0.5, 0.5], ["C4", 0.73, 0.5], ["T4", 0.97, 0.5], ["CP5", 0.17, 0.63], ["CP1", 0.39, 0.62], ["CP2", 0.62, 0.62], ["CP6", 0.84, 0.63], ["T5", 0.12, 0.78], ["P3", 0.3, 0.75], ["Pz", 0.5, 0.74], ["P4", 0.7, 0.75], ["T6", 0.88, 0.78], ["O1", 0.36, 0.95], ["O2", 0.64, 0.95]];

const rowOf = (name: string) => ROW_POS[CHANNELS.indexOf(name)];
const hz = (bin: number) => 4 + bin / 3;

function toPoints(rows: Rows, boxes: Box[]) {
  const pts: { x: number; row: number }[] = [];
  Object.keys(rows).forEach((ch) => rows[ch].forEach((b) => pts.push({ x: hz(b), row: rowOf(ch) })));
  // every boxed run is an unbroken string of dots
  boxes.forEach(([ch, first, last]) => {
    for (let b = first; b <= last; b++) pts.push({ x: hz(b), row: rowOf(ch) });
  });
  return pts;
}

interface RasterProps {
  frame: number[];
  x0: number;
  x24: number;
  yFirst: number;
  yLast: number;
  tickFs: number;
  bars: number[];
  red: Rows;
  blue: Rows;
  redBoxes?: Box[];
  blueBoxes?: Box[];
  stars?: string[];
}

function Raster({ frame, x0, x24, yFirst, yLast, tickFs, bars, red, blue, redBoxes = [], blueBoxes = [], stars = [] }: RasterProps) {
  const [fx, fy, fw, fh] = frame;
  const rowH = (yLast - yFirst) / 32;
  const unit = (x24 - x0) / 24;
  const r = unit * 0.085;
  const labelFs = rowH * 1.08;
  const data = CHANNELS.map((c, i) => ({ row: ROW_POS[i], fisher: bars[i] }));
  const starPts = stars.map((c) => ({ x: bars[CHANNELS.indexOf(c)] + 0.27, row: rowOf(c) }));
  const renderTick = (p: any) => {
    const v = p.payload.value;
    if (v < 4) {
      return (
        <g>
          <text x={p.x} y={p.y + tickFs * 0.76} textAnchor="middle" fontSize={tickFs * 0.72} fontStyle="italic" fontFamily={SANS} fill="#111">{FISHER_LABELS[v]}</text>
          {v === 1 && <text x={p.x - unit * 0.45} y={p.y + tickFs * 0.5} textAnchor="end" fontSize={tickFs * 0.62} fontStyle="italic" fontFamily={SANS} fill="#111">Fisher p =</text>}
        </g>
      );
    }
    return <text x={p.x} y={p.y + tickFs} textAnchor="middle" fontSize={tickFs} fontFamily={SANS} fill="#111">{v}</text>;
  };
  return (
    <div style={{ position: "absolute", left: fx, top: fy, width: fw, height: fh, background: "#fff" }}>
      <ComposedChart
        width={fw}
        height={fh}
        layout="vertical"
        data={data}
        margin={{ top: yFirst - rowH / 2 - fy, bottom: fy + fh - yLast - rowH / 2 - 1, left: x0 - fx - 1, right: fx + fw - x24 }}
      >
        <XAxis type="number" dataKey="x" domain={[0, 24]} ticks={[...FISHER_TICKS, ...FREQ_TICKS]} interval={0} height={1} tick={renderTick} tickLine={false} axisLine={{ stroke: "#777", strokeWidth: 2 }} allowDataOverflow />
        <YAxis type="number" dataKey="row" domain={[-0.5, 32.5]} ticks={ROW_POS} interval={0} width={1} tickSize={4} tickMargin={1} tickFormatter={(v: number) => CHANNELS[ROW_POS.indexOf(v)]} tick={{ fontSize: labelFs, fill: "#222", fontFamily: SANS }} axisLine={{ stroke: "#555" }} tickLine={{ stroke: "#555" }} allowDataOverflow />
        {[...FISHER_TICKS, ...FREQ_TICKS].map((v) => (
          <ReferenceLine key={`v${v}`} x={v} stroke="#999" strokeDasharray="2 4" />
        ))}
        {ROW_POS.map((row) => (
          <ReferenceLine key={`r${row}`} segment={[{ x: 4, y: row }, { x: 24, y: row }]} stroke="#999" strokeDasharray="1 2" />
        ))}
        {SEPARATORS.map((row) => (
          <ReferenceLine key={`s${row}`} y={row} stroke="#777" strokeWidth={2} />
        ))}
        {redBoxes.map(([c, a, b], i) => (
          <ReferenceArea key={`rb${i}`} x1={hz(a - 0.45)} x2={hz(b + 0.45)} y1={rowOf(c) - 0.42} y2={rowOf(c) + 0.42} fill="#ff0000" fillOpacity={0.06} stroke="#ff6060" strokeWidth={1.5} ifOverflow="visible" />
        ))}
        {blueBoxes.map(([c, a, b], i) => (
          <ReferenceArea key={`bb${i}`} x1={hz(a - 0.45)} x2={hz(b + 0.45)} y1={rowOf(c) - 0.42} y2={rowOf(c) + 0.42} fill="#0000ff" fillOpacity={0.05} stroke="#6a6aff" strokeWidth={1.5} ifOverflow="visible" />
        ))}
        <Bar dataKey="fisher" barSize={rowH * 0.84} fill="#333" stroke="#aaa" strokeWidth={0.7} isAnimationActive={false} />
        <Scatter data={toPoints(blue, blueBoxes)} isAnimationActive={false} shape={(p: any) => <ellipse cx={p.cx} cy={p.cy} rx={r * 0.85} ry={r * 1.05} fill="none" stroke="#6f6fff" strokeWidth={1.2} />} />
        <Scatter data={toPoints(red, redBoxes)} isAnimationActive={false} shape={(p: any) => <ellipse cx={p.cx} cy={p.cy} rx={r * 0.9} ry={r * 1.05} fill="#ff0000" />} />
        <Scatter data={starPts} isAnimationActive={false} shape={(p: any) => <text x={p.cx} y={p.cy + labelFs * 0.45} textAnchor="middle" fontSize={labelFs} fontFamily={SANS} fill="#111">*</text>} />
      </ComposedChart>
    </div>
  );
}

interface SpectrumProps {
  frame: number[];
  plot: number[];
  freqs: number[];
  swim: number[];
  stop: number[];
  swimErr: number;
  stopErr: number;
  stars: number[];
  starY: number;
  domain: number[];
  yTicks: number[];
  fs: number;
  legend: number[];
}

function Spectrum({ frame, plot, freqs, swim, stop, swimErr, stopErr, stars, starY, domain, yTicks, fs, legend }: SpectrumProps) {
  const [fx, fy, fw, fh] = frame;
  const [xL, xR, yT, yB] = plot;
  const data = freqs.map((f, i) => ({
    f,
    swim: swim[i],
    stop: stop[i],
    swimBand: [swim[i] - swimErr, swim[i] + swimErr],
    stopBand: [stop[i] - stopErr, stop[i] + stopErr],
  }));
  const starPts = stars.map((f) => ({ f, y: starY }));
  const [lx, ly, lw, lh, lineY1, lineY2] = legend;
  const lineLen = fs * 1.0;
  return (
    <div style={{ position: "absolute", left: fx, top: fy, width: fw, height: fh, background: "#fff" }}>
      <ComposedChart width={fw} height={fh} data={data} margin={{ top: yT - fy, bottom: fy + fh - yB - 1, left: xL - fx - 1, right: fx + fw - xR }}>
        <CartesianGrid stroke="#555" strokeDasharray="1 2" />
        <XAxis type="number" dataKey="f" domain={[4, 24]} ticks={FREQ_TICKS} interval={0} height={1} tickLine={false} tickMargin={2} tick={{ fontSize: fs, fill: "#111", fontFamily: SANS }} axisLine={{ stroke: "#111" }} allowDataOverflow />
        <YAxis type="number" domain={domain} ticks={yTicks} interval={0} width={1} tickLine={false} tickMargin={0} tick={{ fontSize: fs, fill: "#111", fontFamily: SANS }} axisLine={{ stroke: "#111" }} allowDataOverflow />
        <ReferenceLine y={domain[1]} stroke="#111" />
        <ReferenceLine x={24} stroke="#111" />
        <Area dataKey="swimBand" stroke="none" fill="#ff4040" fillOpacity={0.35} isAnimationActive={false} type="linear" />
        <Area dataKey="stopBand" stroke="none" fill="#4040ff" fillOpacity={0.32} isAnimationActive={false} type="linear" />
        <Line dataKey="swim" stroke="#ff0000" strokeWidth={2} dot={false} isAnimationActive={false} type="linear" />
        <Line dataKey="stop" stroke="#0000ff" strokeWidth={2} dot={false} isAnimationActive={false} type="linear" />
        <Scatter
          data={starPts}
          dataKey="y"
          isAnimationActive={false}
          shape={(p: any) => (
            <path d={`M${p.cx - 4} ${p.cy}H${p.cx + 4}M${p.cx - 3} ${p.cy - 4}L${p.cx + 3} ${p.cy + 4}M${p.cx + 3} ${p.cy - 4}L${p.cx - 3} ${p.cy + 4}`} stroke="#333" strokeWidth={1} fill="none" />
          )}
        />
      </ComposedChart>
      <div style={{ position: "absolute", left: lx - fx, top: ly - fy, width: lw, height: lh, background: "#fff", borderTop: "1px solid #888", borderRight: "1px solid #888" }}>
        <svg width={lw} height={lh} style={{ display: "block" }}>
          <line x1={8} x2={8 + lineLen} y1={lineY1 - ly} y2={lineY1 - ly} stroke="#f00" strokeWidth={2.5} />
          <line x1={8} x2={8 + lineLen} y1={lineY2 - ly} y2={lineY2 - ly} stroke="#00f" strokeWidth={2.5} />
          <text x={12 + lineLen} y={lineY1 - ly + fs * 0.32} fontSize={fs} fontFamily={SANS} fill="#111">swim</text>
          <text x={12 + lineLen} y={lineY2 - ly + fs * 0.32} fontSize={fs} fontFamily={SANS} fill="#111">stop</text>
        </svg>
      </div>
    </div>
  );
}

function Topo({ id, box, base, blobs }: { id: string; box: number[]; base: string; blobs: Blob[] }) {
  const [x, y, w, h] = box;
  const cx = w / 2;
  const cy = h * 0.52;
  const rx = w * 0.44;
  const ry = h * 0.43;
  return (
    <svg style={{ position: "absolute", left: x, top: y, overflow: "visible" }} width={w} height={h}>
      <defs>
        <clipPath id={`clip-${id}`}><ellipse cx={cx} cy={cy} rx={rx * 1.07} ry={ry * 1.09} /></clipPath>
        <filter id={`blur-${id}`} x="-30%" y="-30%" width="160%" height="160%"><feGaussianBlur stdDeviation={w * 0.035} /></filter>
      </defs>
      <rect width={w} height={h} fill="#eaf0fc" />
      <g clipPath={`url(#clip-${id})`}>
        <ellipse cx={cx} cy={cy} rx={rx * 1.07} ry={ry * 1.09} fill={base} />
        <g filter={`url(#blur-${id})`}>
          {blobs.map((b, i) => (
            <ellipse key={i} cx={b[0] * w} cy={b[1] * h} rx={b[2] * w} ry={b[3] * h} fill={b[4]} />
          ))}
        </g>
        {blobs.map((b, i) => (
          <ellipse key={`c${i}`} cx={b[0] * w} cy={b[1] * h} rx={b[2] * w} ry={b[3] * h} fill="none" stroke="#234" strokeOpacity={0.55} strokeWidth={0.9} />
        ))}
      </g>
      <ellipse cx={cx} cy={cy} rx={rx} ry={ry} fill="none" stroke="#000" strokeWidth={3} />
      <path d={`M${cx - w * 0.07} ${cy - ry + 3}L${cx} ${cy - ry - h * 0.055}L${cx + w * 0.07} ${cy - ry + 3}`} fill="none" stroke="#000" strokeWidth={2} />
      <ellipse cx={cx - rx - 3} cy={cy} rx={5} ry={h * 0.09} fill="none" stroke="#000" strokeWidth={2} />
      <ellipse cx={cx + rx + 3} cy={cy} rx={5} ry={h * 0.09} fill="none" stroke="#000" strokeWidth={2} />
      {topoLabels.map(([t, lx, ly]) => (
        <text key={t} x={lx * w} y={ly * h + 5} textAnchor="middle" fontSize={h * 0.042} fontFamily={SANS} fill="#334">{t}</text>
      ))}
    </svg>
  );
}

function T({ x, y, size, font = TITLE, anchor = "middle", children }: any) {
  return <text x={x} y={y} fontSize={size} fontFamily={font} textAnchor={anchor} dominantBaseline="central" fill="#000">{children}</text>;
}

function Arrow({ from, to }: { from: number[]; to: number[] }) {
  const [x1, y1] = from;
  const [x2, y2] = to;
  const a = Math.atan2(y1 - y2, x1 - x2);
  const head = [a + 0.55, a - 0.55].map((t) => `${x2 + 34 * Math.cos(t)} ${y2 + 34 * Math.sin(t)}`);
  return (
    <g fill="none">
      <line x1={x1} y1={y1 + 4} x2={x2} y2={y2 + 4} stroke="#c4c4c4" strokeWidth={5} strokeDasharray="32 20 8 20" />
      <line x1={x1} y1={y1} x2={x2} y2={y2} stroke="#808080" strokeWidth={6} strokeDasharray="32 20 8 20" />
      <path d={`M${head[0]}L${x2} ${y2}L${head[1]}`} stroke="#808080" strokeWidth={6} />
    </g>
  );
}

function Brace({ x1, x2, y, drop, stem }: { x1: number; x2: number; y: number; drop: number; stem: number }) {
  const m = (x1 + x2) / 2;
  return <path d={`M${x1} ${y}V${y + drop}H${x2}V${y}M${m} ${y + drop}V${y + drop + stem}`} fill="none" stroke="#555" strokeWidth={2.5} />;
}

export default function App() {
  return (
    <div style={{ position: "fixed", left: 0, top: 0, width: 4096, height: 2644, overflow: "hidden", background: BG }}>
      <div style={{ position: "absolute", left: 0, top: 0, width: 4734, height: 3056, overflow: "hidden", background: BG, transform: "scale(0.865)", transformOrigin: "0 0" }}>
        <Raster frame={[59, 234, 986, 527]} x0={99.6} x24={1026} yFirst={256.6} yLast={716.6} tickFs={21} bars={ps1r1Bars} red={ps1r1Red} blue={ps1r1Blue} redBoxes={ps1r1RedBoxes} blueBoxes={ps1r1BlueBoxes} stars={ps1r1Stars} />
        <Raster frame={[1126, 234, 987, 527]} x0={1167} x24={2093.4} yFirst={256.8} yLast={717} tickFs={21} bars={ps1r2Bars} red={ps1r2Red} blue={ps1r2Blue} redBoxes={ps1r2RedBoxes} blueBoxes={ps1r2BlueBoxes} />
        <Raster frame={[55, 843, 1076, 573]} x0={99} x24={1109} yFirst={868} yLast={1368.6} tickFs={25} bars={ps1cBars} red={ps1cRed} blue={ps1cBlue} redBoxes={ps1cRedBoxes} blueBoxes={ps1cBlueBoxes} stars={ps1cStars} />
        <Raster frame={[2655.5, 773, 1415.5, 712]} x0={2713} x24={4041.7} yFirst={802.7} yLast={1425.2} tickFs={30} bars={ps2v1cBars} red={ps2v1cRed} blue={ps2v1cBlue} redBoxes={ps2v1cRedBoxes} stars={ps2v1cStars} />

        <Raster frame={[2341.5, 254, 782.5, 393]} x0={2372} x24={3107} yFirst={271} yLast={613.7} tickFs={16} bars={ps2v1r1Bars} red={ps2v1r1Red} blue={ps2v1r1Blue} />
        <Raster frame={[3188, 254, 782.5, 393]} x0={3220.7} x24={3955} yFirst={271} yLast={613.7} tickFs={16} bars={ps2v1r2Bars} red={ps2v1r2Red} blue={ps2v1r2Blue} redBoxes={ps2v1r2RedBoxes} />
        <Raster frame={[4044.4, 254, 783, 393]} x0={4076.7} x24={4810} yFirst={271} yLast={613.7} tickFs={16} bars={ps2v1r3Bars} red={ps2v1r3Red} blue={ps2v1r3Blue} blueBoxes={ps2v1r3BlueBoxes} />

        <Raster frame={[86, 1892, 961.5, 513]} x0={125} x24={1028} yFirst={1914} yLast={2362} tickFs={20} bars={ps3r1Bars} red={ps3r1Red} blue={ps3r1Blue} redBoxes={ps3r1RedBoxes} />
        <Raster frame={[1114, 1892, 961.4, 513]} x0={1153} x24={2054.5} yFirst={1914} yLast={2362} tickFs={20} bars={ps3r2Bars} red={ps3r2Red} blue={ps3r2Blue} blueBoxes={ps3r2BlueBoxes} />
        <Raster frame={[86, 2582, 961.5, 513]} x0={125} x24={1028} yFirst={2603} yLast={3050.7} tickFs={20} bars={ps3r3Bars} red={ps3r3Red} blue={ps3r3Blue} redBoxes={ps3r3RedBoxes} />
        <Raster frame={[1114, 2582, 961.4, 513]} x0={1153} x24={2054.5} yFirst={2603} yLast={3050.7} tickFs={20} bars={ps3r4Bars} red={ps3r4Red} blue={ps3r4Blue} redBoxes={ps3r4RedBoxes} />

        <Raster frame={[2409, 2014, 786, 420]} x0={2441.7} x24={3178.5} yFirst={2032} yLast={2398.7} tickFs={16} bars={ps2v2r1Bars} red={ps2v2r1Red} blue={ps2v2r1Blue} redBoxes={ps2v2r1RedBoxes} />
        <Raster frame={[3195, 2014, 784, 420]} x0={3227.6} x24={3963} yFirst={2032} yLast={2398.7} tickFs={16} bars={ps2v2r2Bars} red={ps2v2r2Red} blue={ps2v2r2Blue} />
        <Raster frame={[3979, 2012, 790, 420]} x0={4012} x24={4750} yFirst={2030.3} yLast={2396.7} tickFs={16} bars={ps2v2r3Bars} red={ps2v2r3Red} blue={ps2v2r3Blue} redBoxes={ps2v2r3RedBoxes} blueBoxes={ps2v2r3BlueBoxes} />
        <Raster frame={[2409, 2655, 786, 420]} x0={2441.7} x24={3178.5} yFirst={2673} yLast={3039.7} tickFs={16} bars={ps2v2r4Bars} red={ps2v2r4Red} blue={ps2v2r4Blue} redBoxes={ps2v2r4RedBoxes} blueBoxes={ps2v2r4BlueBoxes} />
        <Raster frame={[3197, 2655, 782, 420]} x0={3227.6} x24={3963} yFirst={2673} yLast={3039.7} tickFs={16} bars={ps2v2r5Bars} red={ps2v2r5Red} blue={ps2v2r5Blue} redBoxes={ps2v2r5RedBoxes} blueBoxes={ps2v2r5BlueBoxes} />
        <Raster frame={[3984, 2655, 790, 420]} x0={4016.5} x24={4754} yFirst={2673} yLast={3039.7} tickFs={16} bars={ps2v2r6Bars} red={ps2v2r6Red} blue={ps2v2r6Blue} blueBoxes={ps2v2r6BlueBoxes} />

        <Topo id="t1" box={[194, 1408, 208, 211]} base="#30e0b8" blobs={topoAlpha} />
        <Topo id="t2" box={[537, 1410, 209, 212]} base="#ffd800" blobs={topoBetaLow} />
        <Topo id="t3" box={[746, 1410, 205, 210]} base="#e8f020" blobs={topoBetaHigh} />
        <Topo id="t4" box={[3196, 1487, 279, 255]} base="#80ee70" blobs={topoPs2Low} />
        <Topo id="t5" box={[3603, 1485, 274, 253]} base="#70f090" blobs={topoPs2High} />

        <Spectrum frame={[1217, 803, 529, 397]} plot={[1285.8, 1696, 856.4, 1156.7]} freqs={pzFreqs} swim={pzSwim} stop={pzStop} swimErr={0.65} stopErr={0.7} stars={pzStars} starY={12} domain={[10, 35]} yTicks={[10, 15, 20, 25, 30, 35]} fs={28} legend={[1584, 860, 108, 81, 881, 920]} />
        <Spectrum frame={[1570, 1190, 529, 397]} plot={[1638.5, 2048.6, 1244, 1544]} freqs={c4Freqs} swim={c4Swim} stop={c4Stop} swimErr={0.65} stopErr={0.7} stars={c4Stars} starY={3.8} domain={[0, 20]} yTicks={[0, 5, 10, 15, 20]} fs={28} legend={[1938, 1247, 107, 80, 1268, 1306]} />
        <Spectrum frame={[4139, 1109, 640, 474]} plot={[4226.6, 4746, 1172.7, 1532.3]} freqs={pz2Freqs} swim={pz2Swim} stop={pz2Stop} swimErr={0.5} stopErr={0.55} stars={pz2Stars} starY={15.05} domain={[10, 40]} yTicks={[10, 20, 30, 40]} fs={33} legend={[4605, 1178, 140, 95, 1202, 1248]} />

        {/* colour bar */}
        <div style={{ position: "absolute", left: 2278, top: 1524, width: 144, height: 433, background: "#eaf0fc" }} />
        <div style={{ position: "absolute", left: 2300, top: 1532, width: 113, height: 413, boxShadow: "inset 3px 0 2px #1a1a1a88, inset -3px 0 2px #1a1a1a88", background: "linear-gradient(#7a0000 0%, #c80000 9%, #ff0000 14%, #ff5000 24%, #ff9c00 33%, #ffff00 39%, #a0ff40 50%, #40ff90 60%, #00ffff 66%, #0090ff 78%, #0020ff 89%, #0000a0 100%)" }} />

        <svg width={4734} height={3056} style={{ position: "absolute", left: 0, top: 0 }}>
          <rect x={30} y={1664} width={2192} height={13} fill="#2b3390" />
          <rect x={2215} y={300} width={15} height={2720} fill="#2b3390" />

          <text x={266} y={130} fontSize={150} fontWeight={700} fontFamily={SANS} textAnchor="end" fill="#999" transform="translate(5 5)">ects</text>
          <text x={266} y={130} fontSize={150} fontWeight={700} fontFamily={SANS} textAnchor="end" fill="#000">ects</text>

          <circle cx={2017} cy={69} r={27} fill="#ff0000" stroke="#222" strokeWidth={3} />
          <circle cx={2020} cy={166} r={26} fill="none" stroke="#0000e0" strokeWidth={13} />
          <T x={2074} y={69} size={64} font={SANS} anchor="start">Swim &gt; Stop</T>
          <T x={2078} y={166} size={64} font={SANS} anchor="start">Stop &gt; Swim</T>

          <T x={1081} y={130} size={100}>PS1</T>
          <T x={574} y={187} size={70}>Run 1</T>
          <T x={1642} y={187} size={70}>Run 2</T>
          <T x={549} y={812} size={68}>Runs Combined</T>
          <T x={3578} y={103} size={85}>PS2 - Visit 1</T>
          <T x={2756} y={214} size={70}>Run 1</T>
          <T x={3599} y={217} size={70}>Run 2</T>
          <T x={4414} y={214} size={70}>Run 3</T>
          <T x={3330} y={733} size={68}>Runs Combined</T>
          <T x={1129} y={1772} size={97}>PS3 - Visit 1</T>
          <T x={537} y={1854} size={70}>Run 1</T>
          <T x={1582} y={1857} size={70}>Run 2</T>
          <T x={537} y={2539} size={70}>Run 3</T>
          <T x={1582} y={2533} size={70}>Run 4</T>
          <T x={3575} y={1860} size={85}>PS2 - Visit 2</T>
          <T x={2802} y={1962} size={70}>Run 1</T>
          <T x={3599} y={1962} size={70}>Run 2</T>
          <T x={4375} y={1956} size={70}>Run 3</T>
          <T x={2802} y={2602} size={70}>Run 4</T>
          <T x={3602} y={2602} size={70}>Run 5</T>
          <T x={4375} y={2602} size={70}>Run 6</T>

          <T x={1490} y={820} size={30} font={SANS}>Pz</T>
          <T x={1842} y={1208} size={30} font={SANS}>C4</T>
          <T x={4484} y={1130} size={34} font={SANS}>Pz</T>
          <g transform="translate(1212.5 1000) rotate(-90)"><T x={0} y={0} size={23.5} font={SANS}>Power in dB uV²/Hz</T></g>
          <g transform="translate(1566 1384) rotate(-90)"><T x={0} y={0} size={23.5} font={SANS}>Power in dB uV²/Hz</T></g>
          <g transform="translate(4144.5 1380) rotate(-90)"><T x={0} y={0} size={26} font={SANS}>Power in dB uV²/Hz</T></g>

          <T x={2445} y={1548} size={46} font={SANS}>3</T>
          <T x={2425} y={1913} size={46} font={SANS} anchor="start">-3</T>
          <T x={2447} y={1675} size={51} font={SANS} anchor="start">Power</T>
          <T x={2447} y={1740} size={51} font={SANS} anchor="start">difference</T>
          <T x={2447} y={1803} size={51} font={SANS} anchor="start">in dB</T>

          <Brace x1={267} x2={337} y={1377} drop={18} stem={13} />
          <Brace x1={604} x2={675} y={1377} drop={18} stem={13} />
          <Brace x1={809} x2={879} y={1377} drop={18} stem={13} />
          <Brace x1={3295} x2={3380} y={1436} drop={13} stem={20} />
          <Brace x1={3697} x2={3781} y={1436} drop={13} stem={20} />

          <Arrow from={[1469, 1127]} to={[884, 1140]} />
          <Arrow from={[1762, 1482]} to={[759, 1210]} />
          <Arrow from={[4383, 1468]} to={[3385, 1150]} />
        </svg>
      </div>
    </div>
  );
}
